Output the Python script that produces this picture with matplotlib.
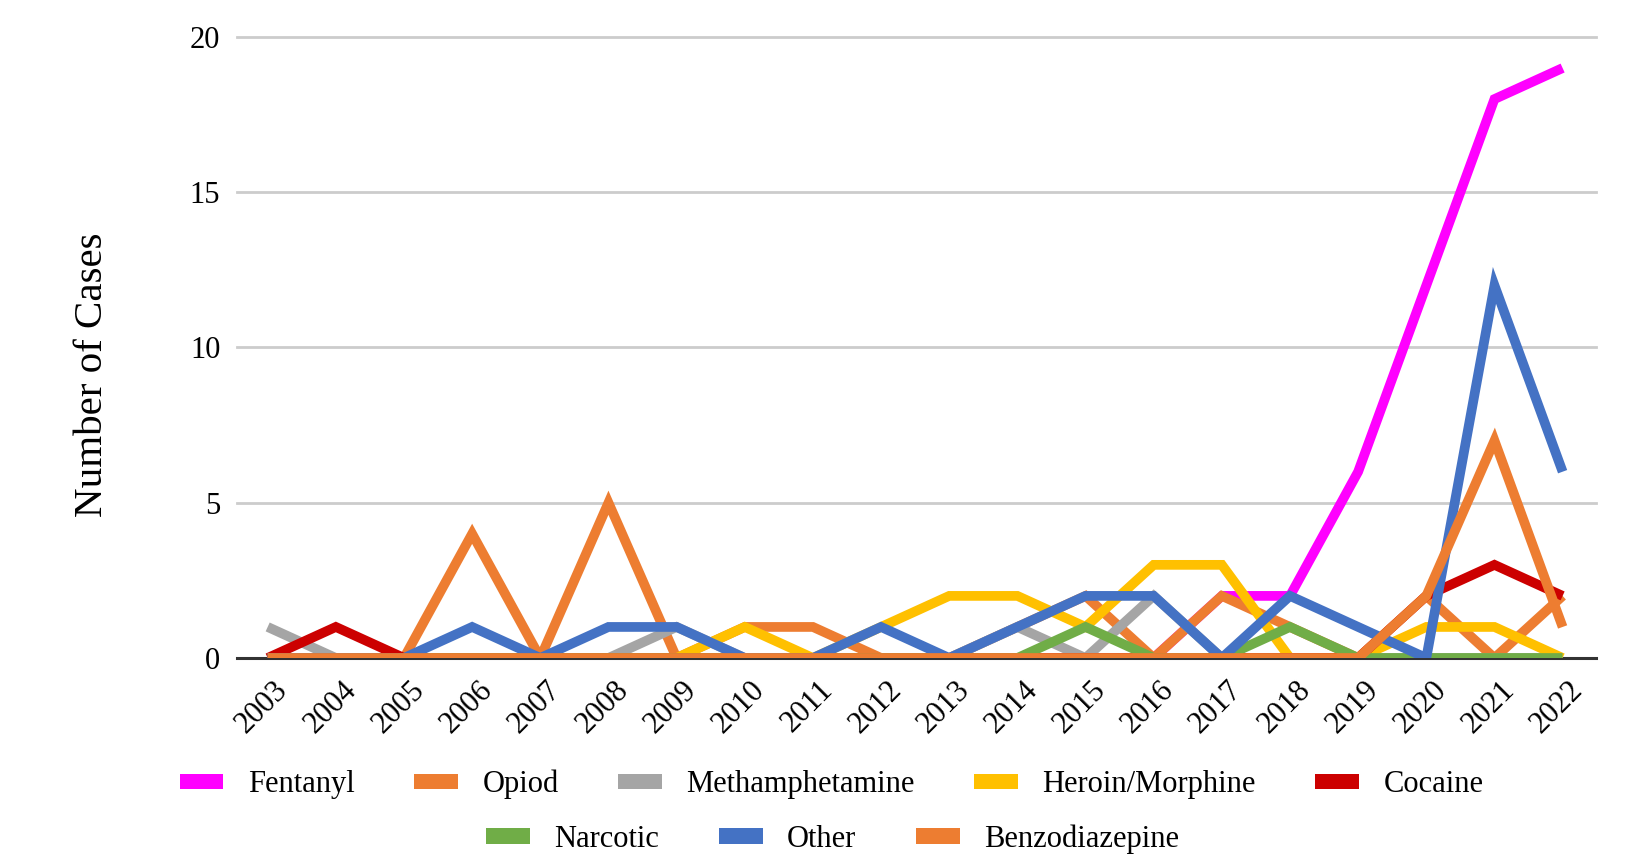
import matplotlib
matplotlib.use("Agg")
import matplotlib.pyplot as plt
from matplotlib.patches import Patch
import matplotlib.transforms as mtransforms

plt.rcParams['font.family'] = ['Liberation Serif', 'DejaVu Serif']

years = [str(y) for y in range(2003, 2023)]

fentanyl    = [0, 0, 0, 0, 0, 0, 0, 0, 0, 0, 0, 0, 0, 0, 2, 2, 6, 12, 18, 19]
opiod       = [0, 0, 0, 4, 0, 5, 0, 1, 1, 0, 0, 1, 2, 0, 2, 1, 0, 2, 0, 2]
meth        = [1, 0, 0, 0, 0, 0, 1, 0, 0, 0, 0, 1, 0, 2, 0, 0, 0, 0, 0, 0]
heroin      = [0, 0, 0, 0, 0, 0, 0, 1, 0, 1, 2, 2, 1, 3, 3, 0, 0, 1, 1, 0]
cocaine     = [0, 1, 0, 0, 0, 0, 0, 0, 0, 0, 0, 0, 0, 0, 0, 0, 0, 2, 3, 2]
narcotic    = [0, 0, 0, 0, 0, 0, 0, 0, 0, 0, 0, 0, 1, 0, 0, 1, 0, 0, 0, 0]
other       = [0, 0, 0, 1, 0, 1, 1, 0, 0, 1, 0, 1, 2, 2, 0, 2, 1, 0, 12, 6]
benzo       = [0, 0, 0, 0, 0, 0, 0, 0, 0, 0, 0, 0, 0, 0, 0, 0, 0, 2, 7, 1]

series_names = ["Fentanyl", "Opiod", "Methamphetamine", "Heroin/Morphine",
                "Cocaine", "Narcotic", "Other", "Benzodiazepine"]
series_vals = [fentanyl, opiod, meth, heroin, cocaine, narcotic, other, benzo]
colors = ["#FF00FF", "#ED7D31", "#A5A5A5", "#FFC000",
          "#CC0000", "#70AD47", "#4472C4", "#ED7D31"]

yticks = [0, 5, 10, 15, 20]

fig = plt.figure(figsize=(16.25, 8.64), dpi=100)
ax = fig.add_axes([0.14585, 0.23843, 0.83631, 0.71875])

x = list(range(len(years)))
for i, (name, vals, c) in enumerate(zip(series_names, series_vals, colors)):
    ax.plot(x, vals, color=c, lw=7, solid_capstyle='butt',
            solid_joinstyle='miter', zorder=3 + i, label=name)

ax.set_xlim(-0.45, 19.49)
ax.set_ylim(0, 20)
ax.set_yticks(yticks)
ax.set_yticklabels([str(v) for v in yticks])
for v in yticks[1:]:
    ax.axhline(v, color="#CCCCCC", lw=2, zorder=1, clip_on=False)
ax.axhline(0, color="#333333", lw=2.2, zorder=2, clip_on=False)

for s in ax.spines.values():
    s.set_visible(False)

ax.tick_params(axis='y', length=0, pad=12, labelsize=22)
ax.tick_params(axis='x', length=0, pad=20, labelsize=22)
ax.set_xticks(x)
ax.set_xticklabels(years, rotation=45, ha='right', va='center',
                   rotation_mode='anchor')
offset = mtransforms.ScaledTranslation(16 / 100, 0, fig.dpi_scale_trans)
for lab in ax.get_xticklabels():
    lab.set_transform(lab.get_transform() + offset)

fig.text(93 / 1625, 1 - 375 / 864, "Number of Cases", rotation=90,
         ha='center', va='center', fontsize=29.5)

handles = [Patch(facecolor=c, edgecolor='none', linewidth=0) for c in colors]
common = dict(frameon=False, fontsize=22, handlelength=1.43, handleheight=0.41,
              handletextpad=0.8, columnspacing=1.95, borderpad=0, borderaxespad=0)
leg1 = fig.legend(handles[:5], series_names[:5], ncol=5, loc='center',
                  bbox_to_anchor=(0.5118, 0.092), **common)
leg2 = fig.legend(handles[5:], series_names[5:], ncol=3, loc='center',
                  bbox_to_anchor=(0.5124, 0.0285), **common)

fig.savefig("out.png", dpi=100)
